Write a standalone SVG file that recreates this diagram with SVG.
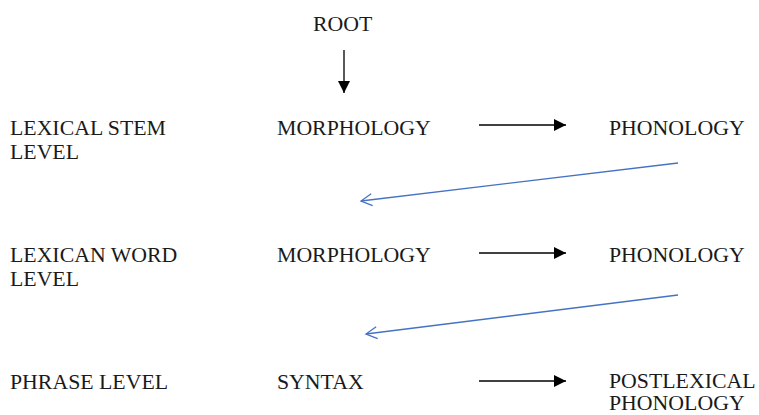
<svg xmlns="http://www.w3.org/2000/svg" width="759" height="415" viewBox="0 0 759 415">
  <defs>
    <style>
      .t { font-family: "Liberation Serif", "Times New Roman", serif; font-size: 21.8px; fill: #1a1a1a; }
      .k { stroke: #000; stroke-width: 1.3; fill: none; }
      .b { stroke: #4472c4; stroke-width: 1.3; fill: none; }
    </style>
    <marker id="solid" markerWidth="12" markerHeight="12" refX="12" refY="6" orient="auto" markerUnits="userSpaceOnUse">
      <path d="M0,0 L12,6 L0,12 z" fill="#000"/>
    </marker>
    <marker id="open" markerWidth="14" markerHeight="14" refX="12" refY="7" orient="auto" markerUnits="userSpaceOnUse">
      <path d="M1,1 L12,7 L1,13" fill="none" stroke="#4472c4" stroke-width="1.3"/>
    </marker>
  </defs>
  <rect width="759" height="415" fill="#fff"/>

  <g id="root"><text class="t" x="313" y="31">ROOT</text></g>

  <g id="stem-level"><text class="t" x="10" y="135">LEXICAL STEM</text><text class="t" x="10" y="159">LEVEL</text></g>
  <g id="stem-morphology"><text class="t" x="277" y="135">MORPHOLOGY</text></g>
  <g id="stem-phonology"><text class="t" x="609" y="135">PHONOLOGY</text></g>

  <g id="word-level"><text class="t" x="10" y="262">LEXICAN WORD</text><text class="t" x="10" y="286">LEVEL</text></g>
  <g id="word-morphology"><text class="t" x="277" y="262">MORPHOLOGY</text></g>
  <g id="word-phonology"><text class="t" x="609" y="262">PHONOLOGY</text></g>

  <g id="phrase-level"><text class="t" x="10" y="389">PHRASE LEVEL</text></g>
  <g id="syntax"><text class="t" x="277" y="389">SYNTAX</text></g>
  <g id="postlexical"><text class="t" x="609" y="388">POSTLEXICAL</text><text class="t" x="609" y="410">PHONOLOGY</text></g>

  <g id="connectors">
    <line class="k" x1="344" y1="50" x2="344" y2="93" marker-end="url(#solid)"/>
    <line class="k" x1="479" y1="125" x2="566" y2="125" marker-end="url(#solid)"/>
    <line class="k" x1="479" y1="253" x2="566" y2="253" marker-end="url(#solid)"/>
    <line class="k" x1="479" y1="381" x2="566" y2="381" marker-end="url(#solid)"/>
    <line class="b" x1="678" y1="163" x2="361" y2="201" marker-end="url(#open)"/>
    <line class="b" x1="678" y1="295" x2="366" y2="334" marker-end="url(#open)"/>
  </g>
</svg>
